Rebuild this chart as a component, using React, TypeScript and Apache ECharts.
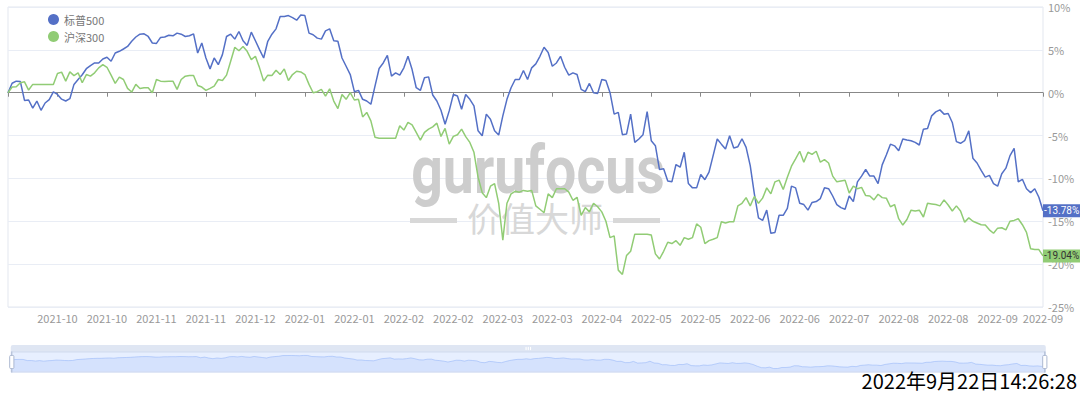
import React, { useEffect, useRef } from 'react';
import * as echarts from 'echarts';

// ---------- data ----------
const START_DATE = '2021-09-22';
const END_DATE = '2022-09-21';
const US_HOLIDAYS = [
  '2021-11-25', '2021-12-24', '2022-01-17', '2022-02-21', '2022-04-15',
  '2022-05-30', '2022-06-20', '2022-07-04', '2022-09-05',
];

const SERIES_NAMES = ['标普500', '沪深300'];

const sp500 = [
  0, 1.1, 1.35, 1.3, -0.9, -0.85, -1.8, -0.97, -2.05, -1.2,
  -0.8, 0.1, -0.2, -0.75, -0.97, -0.7, 0.97, 1.54, 2.1, 2.8,
  3.17, 3.47, 3.47, 3.94, 4.13, 3.67, 4.63, 4.83, 5.1, 5.4,
  6.0, 6.5, 6.83, 6.87, 6.56, 5.8, 5.75, 6.45, 6.5, 6.7,
  6.64, 6.95, 6.83, 6.56, 6.64, 6.87, 4.63, 5.8, 4.05, 2.78,
  4.05, 3.28, 4.44, 6.56, 6.83, 6.25, 7.14, 6.06, 5.52, 7.07,
  6.06, 5.02, 4.05, 6.0, 6.83, 7.45, 8.88, 8.88, 9.0, 8.76,
  8.46, 9.07, 9.0, 6.95, 6.76, 6.37, 6.25, 7.22, 7.45, 6.06,
  6.0, 4.05, 3.09, 2.12, 0.12, 0.27, -0.77, -0.97, -1.35, 0.77,
  2.82, 3.47, 4.36, 1.93, 2.32, 2.05, 2.9, 4.25, 2.7, 0.58,
  0.27, 1.74, 1.85, -0.27, -0.97, -2.05, -3.67, -2.12, -0.2, -0.39,
  -1.93, -0.2, -0.77, -1.54, -4.44, -5.02, -2.5, -3.09, -4.44, -4.94,
  -2.7, -0.77, 0.58, 1.54, 1.54, 2.59, 1.54, 2.9, 3.36, 4.25,
  5.3, 4.7, 3.09, 3.47, 4.25, 2.97, 2.05, 2.32, 2.12, 0.39,
  0.12, 1.08, 0, -0.08, 1.54, 1.43, 0, -2.5, -2.3, -4.9,
  -4.83, -2.5, -5.8, -5.4, -4.9, -2.2, -5.6, -6.18, -8.96, -8.88,
  -10.3, -10.4, -8.38, -8.69, -6.95, -10.6, -11.1, -11.1, -9.54, -10.15,
  -9.27, -7.34, -5.4, -6.0, -6.56, -5.02, -6.45, -6.3, -5.37, -6.37,
  -8.5, -11.8, -14.6, -14.9, -13.7, -16.4, -16.3, -14.3, -14.3, -13.5,
  -10.9, -11.1, -12.9, -13.05, -13.7, -12.8, -12.7, -12.35, -11.1, -11.2,
  -12.05, -13.05, -13.4, -13.6, -12.05, -12.7, -10.4, -9.73, -8.96, -9.73,
  -9.73, -10.6, -8.42, -7.26, -6.0, -6.2, -6.76, -5.4, -5.52, -5.6,
  -5.8, -6.1, -4.25, -4.17, -2.7, -2.24, -2.0, -2.5, -2.43, -3.47,
  -5.7, -5.9, -5.6, -4.44, -7.64, -8.2, -9.07, -9.85, -9.65, -10.6,
  -10.9, -9.46, -8.8, -7.34, -6.5, -10.4, -10.1, -11.2, -11.66, -11.2,
  -12.2, -13.78,
];

const csi300 = [
  0, 0.66, 0.7, 1.16, 1.27, 0.31, 0.97, 0.97, 0.97, 0.97,
  0.97, 0.97, 2.24, 2.4, 1.35, 2.43, 2.0, 2.32, 1.16, 2.12,
  1.93, 2.32, 2.9, 3.28, 2.97, 2.05, 1.08, 1.81, 1.54, 0.5,
  0.08, 0.97, 0.5, 0.58, 0.58, 0, 1.54, 1.35, 1.3, 1.35,
  1.35, 0.39, 1.54, 1.93, 2.0, 2.0, 0.85, 0.66, 0.27, 0.5,
  0.77, 1.54, 1.43, 2.05, 3.67, 5.3, 4.9, 5.4, 4.83, 3.86,
  4.25, 2.9, 1.35, 2.05, 2.0, 2.63, 2.12, 2.78, 1.43, 2.12,
  2.5, 2.43, 2.12, 0.97, 0, 0.12, 0.39, -0.39, 0.46, -0.97,
  -1.85, -0.2, -0.77, 0, -0.85, -0.77, -2.82, -2.3, -3.28, -5.2,
  -5.3, -5.3, -5.3, -5.3, -5.3, -3.86, -4.36, -3.47, -3.75, -4.63,
  -5.52, -4.63, -4.25, -3.98, -3.55, -5.1, -4.17, -6.0, -5.1, -4.9,
  -4.25, -5.13, -5.8, -6.95, -9.85, -11.66, -12.24, -10.9, -10.6, -12.9,
  -17.2, -12.9, -11.8, -11.5, -11.6, -11.4, -11.5, -11.4, -13.2, -13.6,
  -14.0, -11.8, -12.24, -11.2, -11.2, -11.2, -11.6, -12.55, -12.2, -14.3,
  -13.4, -13.9, -12.9, -13.3, -13.9, -15.0, -16.9, -16.7, -20.7, -21.2,
  -19.0, -18.5, -16.5, -16.5, -16.5, -16.5, -16.6, -18.8, -19.4, -18.5,
  -17.45, -17.6, -17.26, -17.8, -16.9, -17.1, -16.9, -15.3, -15.7, -17.6,
  -17.26, -17.1, -16.9, -15.06, -15.2, -15.06, -15.06, -13.2, -12.9, -12.24,
  -13.2, -12.1, -12.9, -12.3, -11.1, -11.8, -10.4, -10.2, -11.3, -9.85,
  -8.57, -7.72, -6.83, -8.1, -6.95, -7.2, -6.83, -8.1, -7.8, -8.2,
  -9.73, -10.4, -10.3, -10.2, -11.7, -10.9, -11.2, -11.04, -12.0, -12.05,
  -12.5, -11.85, -12.24, -12.3, -13.3, -13.05, -14.7, -15.44, -14.8, -13.7,
  -13.8, -13.7, -14.5, -12.9, -12.97, -13.05, -13.2, -12.5, -13.1, -13.8,
  -13.2, -13.8, -15.1, -14.6, -15.0, -15.2, -15.4, -15.44, -16.0, -16.4,
  -15.8, -15.75, -16.0, -15.0, -14.9, -14.7, -15.4, -16.3, -18.2, -18.3,
  -18.3, -19.04,
];

const Y_MIN = -25;
const Y_MAX = 10;
const Y_STEP = 5;
const LABEL_EVERY = 12;
const TIMESTAMP = '2022年9月22日14:26:28';
const WATERMARK = 'gurufocus';
const WATERMARK_CN = '价值大师';

// trading-day calendar (weekdays minus exchange holidays)
function tradingDays(start: string, end: string, holidays: string[]): string[] {
  const out: string[] = [];
  const d = new Date(start + 'T00:00:00Z');
  const e = new Date(end + 'T00:00:00Z');
  while (d.getTime() <= e.getTime()) {
    const wd = d.getUTCDay();
    const s = d.toISOString().slice(0, 10);
    if (wd !== 0 && wd !== 6 && holidays.indexOf(s) < 0) out.push(s);
    d.setUTCDate(d.getUTCDate() + 1);
  }
  return out;
}
const dates = tradingDays(START_DATE, END_DATE, US_HOLIDAYS);

const BLUE = '#5470c6';
const GREEN = '#91cc75';
const FONT = '"Microsoft YaHei", "Noto Sans CJK SC", sans-serif';

export default function App() {
  const ref = useRef<HTMLDivElement>(null);
  useEffect(() => {
    if (!ref.current) return;
    const chart = echarts.init(ref.current, null, { renderer: 'svg' });
    const option: any = {
      animation: false,
      color: [BLUE, GREEN],
      textStyle: { fontFamily: FONT },
      legend: {
        orient: 'vertical',
        left: 43,
        top: 9,
        itemWidth: 11,
        itemHeight: 11,
        itemGap: 6,
        icon: 'circle',
        data: SERIES_NAMES,
        textStyle: { color: '#777', fontSize: 11, fontFamily: FONT },
      },
      grid: {
        left: 8, right: 37, top: 7, bottom: 87,
        show: true, borderColor: '#e3e7ef', borderWidth: 1,
      },
      xAxis: [
        {
          type: 'category', data: dates, boundaryGap: false, position: 'bottom',
          axisLine: { onZero: true, lineStyle: { color: '#888', width: 1 } },
          axisTick: { show: true, interval: LABEL_EVERY - 1, length: 4, lineStyle: { color: '#888' } },
          axisLabel: { show: false, interval: LABEL_EVERY - 1, showMaxLabel: true },
          splitLine: { show: false },
        },
        {
          type: 'category', data: dates, boundaryGap: false, position: 'bottom',
          axisLine: { show: false, onZero: false },
          axisTick: { show: false },
          splitLine: { show: false },
          axisLabel: {
            interval: LABEL_EVERY - 1, showMinLabel: false, showMaxLabel: true,
            color: '#999', fontSize: 11, margin: 5, fontFamily: FONT,
            formatter: (v: string) => v.slice(0, 7),
          },
        },
      ],
      yAxis: {
        type: 'value', position: 'right', min: Y_MIN, max: Y_MAX, interval: Y_STEP,
        axisLine: { show: false }, axisTick: { show: false },
        axisLabel: { formatter: '{value}%', color: '#999', fontSize: 11, margin: 5, fontFamily: FONT },
        splitLine: { lineStyle: { color: '#e9edf5', width: 1 } },
      },
      dataZoom: [
        {
          type: 'slider', xAxisIndex: [0, 1], start: 0, end: 100,
          left: 8, right: 37, bottom: 28, height: 21,
          backgroundColor: 'rgba(47,69,84,0)',
          borderColor: '#d2dbee',
          fillerColor: 'rgba(135,175,274,0.2)',
          showDetail: false,
          moveHandleSize: 7,
          moveHandleStyle: { color: '#d2dbee', opacity: 0.7 },
          handleStyle: { color: '#fff', borderColor: '#acb8d1' },
          dataBackground: {
            lineStyle: { color: '#d2dbee', width: 0.5 },
            areaStyle: { color: '#d2dbee', opacity: 0.2 },
          },
          selectedDataBackground: {
            lineStyle: { color: '#8fb0f7', width: 0.5 },
            areaStyle: { color: '#8fb0f7', opacity: 0.2 },
          },
        },
      ],
      graphic: [
        {
          type: 'text', x: 538, y: 170, z: 1, scaleX: 0.84,
          style: { text: WATERMARK, font: 'bold 66px Roboto', fill: '#cdcdcd', align: 'center', verticalAlign: 'middle' },
        },
        {
          type: 'text', x: 535, y: 217, z: 1,
          style: { text: WATERMARK_CN, font: '34px "Noto Sans CJK SC"', fill: '#d8d8d8', align: 'center', verticalAlign: 'middle' },
        },
        { type: 'rect', x: 410, y: 218, z: 1, shape: { width: 47, height: 5 }, style: { fill: '#d8d8d8' } },
        { type: 'rect', x: 613, y: 218, z: 1, shape: { width: 47, height: 5 }, style: { fill: '#d8d8d8' } },
        {
          type: 'text', right: 3, top: 370, z: 10,
          style: { text: TIMESTAMP, font: '20px "Noto Sans CJK SC"', lineHeight: 20, fill: '#000' },
        },
      ],
      series: [
        {
          name: SERIES_NAMES[0], type: 'line', data: sp500, xAxisIndex: 0,
          showSymbol: false, z: 3,
          lineStyle: { width: 1.5, color: BLUE }, itemStyle: { color: BLUE },
          endLabel: {
            show: true, distance: 0, fontSize: 10, color: '#fff', backgroundColor: BLUE,
            padding: [2, 1, 1, 1], fontFamily: 'Roboto, sans-serif',
            formatter: (p: any) => Number(p.value).toFixed(2) + '%',
          },
        },
        {
          name: SERIES_NAMES[1], type: 'line', data: csi300, xAxisIndex: 0,
          showSymbol: false, z: 3,
          lineStyle: { width: 1.5, color: GREEN }, itemStyle: { color: GREEN },
          endLabel: {
            show: true, distance: 0, fontSize: 10, color: '#333', backgroundColor: GREEN,
            padding: [2, 1, 1, 1], fontFamily: 'Roboto, sans-serif',
            formatter: (p: any) => Number(p.value).toFixed(2) + '%',
          },
        },
      ],
    };
    chart.setOption(option);
    return () => chart.dispose();
  }, []);
  return (
    <div style={{ position: 'fixed', left: 0, top: 0, width: 1080, height: 394, background: '#fff' }}>
      <div ref={ref} style={{ width: 1080, height: 394 }} />
    </div>
  );
}
